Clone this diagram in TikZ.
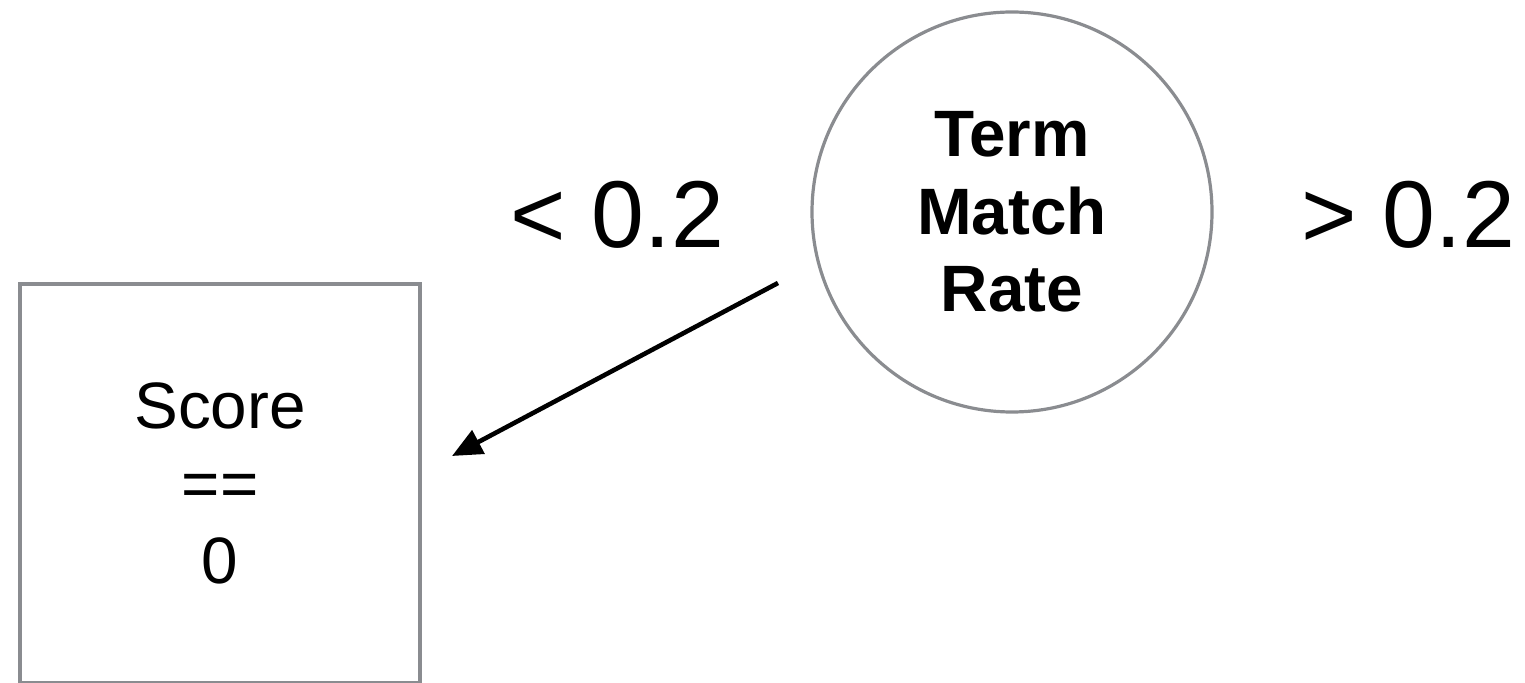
\documentclass[tikz,border=0pt]{standalone}
\usepackage{fontspec}
\setmainfont{Liberation Sans}
\usetikzlibrary{arrows.meta}
\definecolor{edgegray}{HTML}{8A8C90}
\begin{document}
\begin{tikzpicture}[x=0.5pt,y=-0.5pt,
  box/.style={draw=edgegray,line width=2pt,minimum width=200pt,minimum height=199.5pt,inner sep=0pt,
    font=\fontsize{32.8}{38.75}\selectfont,align=center},
  decision/.style={circle,draw=edgegray,line width=1.6pt,minimum size=200pt,inner sep=0pt,
    font=\bfseries\fontsize{32.8}{38.75}\selectfont,align=center},
  cond/.style={font=\fontsize{47.5}{50}\selectfont,anchor=base,inner sep=0pt},
  link/.style={-{Triangle[length=15pt,width=13pt]},line width=2.3pt}]
\useasboundingbox (0,0) rectangle (1525,683);
\node[decision] (rate) at (1012,212) {Term\\Match\\Rate};
\node[box] (score) at (220,483.5) {Score\\==\\0};
\node[cond] (lt) at (617,248) {< 0.2};
\node[cond] (gt) at (1408,248) {> 0.2};
\coordinate (s) at (778,283);
\coordinate (e) at (452,456);
\draw[link] (s) -- (e);
\end{tikzpicture}
\end{document}
